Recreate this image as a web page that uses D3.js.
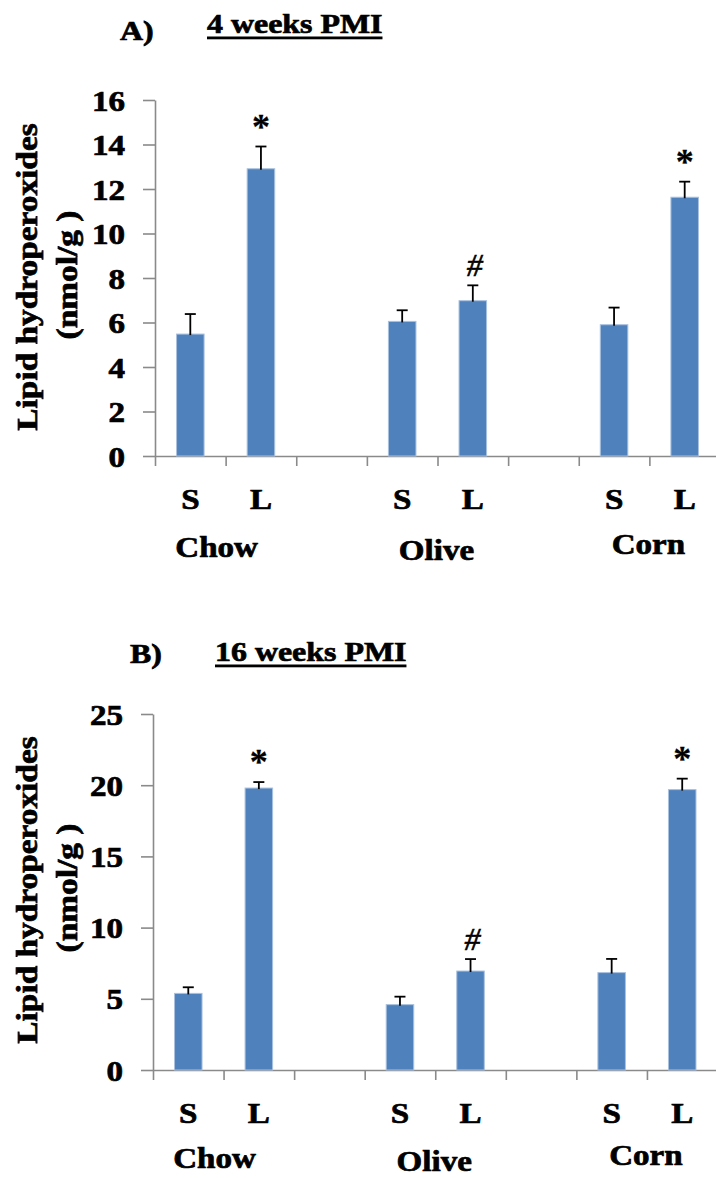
<!DOCTYPE html>
<html>
<head>
<meta charset="utf-8">
<script src="https://cdn.jsdelivr.net/npm/d3@7"></script>
<style>
  html, body { margin: 0; padding: 0; background: #ffffff; }
  svg { display: block; }
</style>
</head>
<body>
<script>
// Lipid hydroperoxides by diet (Chow / Olive / Corn) and group (S / L)
const groups = ["Chow", "Olive", "Corn"];
const subgroups = ["S", "L"];

// 4 weeks PMI
const meansA = [5.48, 12.91, 6.05, 6.98, 5.90, 11.63];
const errsA  = [0.90, 1.00, 0.50, 0.69, 0.77, 0.70];
const marksA = ["", "*", "", "#", "", "*"];
const ticksA = [0, 2, 4, 6, 8, 10, 12, 14, 16];

// 16 weeks PMI
const meansB = [5.38, 19.80, 4.59, 6.95, 6.84, 19.69];
const errsB  = [0.43, 0.42, 0.56, 0.84, 0.96, 0.77];
const marksB = ["", "*", "", "#", "", "*"];
const ticksB = [0, 5, 10, 15, 20, 25];

const titlesA = ["A)", "4 weeks PMI"];
const titlesB = ["B)", "16 weeks PMI"];
const yTitle = ["Lipid hydroperoxides", "(nmol/g )"];

const W = 716, H = 1178;
const SERIF = "'Liberation Serif', 'Times New Roman', Times, serif";
const BAR = "#4f81bd", BAR_EDGE = "#a9c1df", AXIS = "#8a8a8a";
const STRETCH = 1.14;   // glyphs are drawn slightly wide along the reading direction

const svg = d3.select("body").append("svg")
  .attr("width", W).attr("height", H)
  .attr("viewBox", `0 0 ${W} ${H}`);

// text placed at (x, y), optionally rotated, widened along its own baseline
function label(g, str, x, y, o = {}) {
  const weight = o.weight || "bold";
  const t = g.append("text")
    .attr("transform", `translate(${x},${y}) rotate(${o.rotate || 0}) scale(${o.sx || STRETCH},1)`)
    .attr("text-anchor", o.anchor || "middle")
    .attr("font-family", SERIF)
    .attr("font-weight", weight)
    .attr("font-style", o.italic ? "italic" : "normal")
    .attr("font-size", o.size || 29)
    .attr("fill", "#000")
    .attr("stroke", "#000")
    .attr("stroke-width", o.heavy != null ? o.heavy : (weight === "bold" ? 0.7 : 0.4))
    .text(str);
  return t;
}

function panel(cfg) {
  const g = svg.append("g");
  const nSlots = groups.length * 3 - 1;           // S, L, gap, S, L, gap, S, L

  const y = d3.scaleLinear().domain([0, cfg.yMax]).range([cfg.y0, cfg.y1]);
  const xEdge = d3.scaleLinear().domain([0, nSlots]).range([cfg.x0, cfg.x1]);
  const xBand = d3.scaleBand().domain(d3.range(nSlots))
    .range([cfg.x0, cfg.x1]).paddingInner(0.61).paddingOuter(0.305);

  // titles
  label(g, cfg.titles[0], cfg.tagX, cfg.tagY, { anchor: "start", size: 28 });
  const head = label(g, cfg.titles[1], cfg.headX, cfg.headY, { anchor: "start", size: 28 });
  const hb = head.node().getBoundingClientRect();
  g.append("rect")
    .attr("x", hb.left).attr("width", hb.width)
    .attr("y", cfg.headY + 3.5).attr("height", 2.8)
    .attr("fill", "#000");

  // y axis lines (labels drawn separately)
  const yAxis = g.append("g")
    .attr("transform", `translate(${cfg.x0},0)`)
    .call(d3.axisLeft(y).tickValues(cfg.ticks).tickSize(12).tickSizeOuter(0).tickFormat(""));
  yAxis.selectAll("path, line").attr("stroke", AXIS).attr("stroke-width", 1.6);

  // x axis with tick marks at slot boundaries
  const xAxis = g.append("g")
    .attr("transform", `translate(0,${cfg.y0})`)
    .call(d3.axisBottom(xEdge).tickValues(d3.range(nSlots + 1)).tickSize(10).tickSizeOuter(0).tickFormat(""));
  xAxis.selectAll("path, line").attr("stroke", AXIS).attr("stroke-width", 1.6);

  // y tick labels
  cfg.ticks.forEach(v => label(g, String(v), cfg.x0 - 30, y(v) + 10.5, { anchor: "end" }));

  // y axis title, two rotated lines
  label(g, yTitle[0], 37, cfg.yTitleMid, { rotate: -90, size: 29, sx: 1.15 });
  label(g, yTitle[1], 77, cfg.yTitleMid - 2, { rotate: -90, size: 29, sx: 1.15 });

  const slotOf = i => Math.floor(i / 2) * 3 + (i % 2);

  // bars
  g.selectAll("rect.bar").data(cfg.means).join("rect")
    .attr("class", "bar")
    .attr("x", (d, i) => xBand(slotOf(i)))
    .attr("width", xBand.bandwidth())
    .attr("y", d => y(d))
    .attr("height", d => y(0) - y(d))
    .attr("fill", BAR)
    .attr("stroke", BAR_EDGE)
    .attr("stroke-width", 1);

  // upper error bars
  const cx = i => xBand(slotOf(i)) + xBand.bandwidth() / 2;
  cfg.means.forEach((m, i) => {
    const top = y(m + cfg.errs[i]);
    g.append("line").attr("x1", cx(i)).attr("x2", cx(i))
      .attr("y1", y(m) + 1).attr("y2", top)
      .attr("stroke", "#000").attr("stroke-width", 1.8);
    g.append("line").attr("x1", cx(i) - 5.5).attr("x2", cx(i) + 5.5)
      .attr("y1", top).attr("y2", top)
      .attr("stroke", "#000").attr("stroke-width", 1.8);

    // significance marks, centred a fixed distance above the error cap
    if (cfg.marks[i]) {
      const isHash = cfg.marks[i] === "#";
      const mx = cx(i) + (isHash ? 2 : 0);
      const t = label(g, cfg.marks[i], mx, 0, isHash
        ? { weight: "normal", italic: true, size: 32, sx: 1, heavy: 0.6 }
        : { weight: "bold", size: 36, sx: 1, heavy: 0.3 });
      const b = t.node().getBBox();
      const want = top - 20;
      t.attr("transform", `translate(${mx},${want - (b.y + b.height / 2)})`);
    }
  });

  // S / L labels under each bar
  cfg.means.forEach((m, i) => label(g, subgroups[i % 2], cx(i), cfg.subY));

  // diet labels under each pair
  const nudgeX = [-9, -1, -1], nudgeY = [0, 3, -3];
  groups.forEach((name, k) => {
    const mid = (cx(2 * k) + cx(2 * k + 1)) / 2;
    label(g, name, mid + nudgeX[k], cfg.groupY + nudgeY[k]);
  });
}

panel({
  titles: titlesA, means: meansA, errs: errsA, marks: marksA, ticks: ticksA,
  yMax: 16, y0: 456, y1: 100, x0: 155, x1: 720,
  tagX: 120, tagY: 40, headX: 207, headY: 33,
  yTitleMid: 277, subY: 509, groupY: 557
});

panel({
  titles: titlesB, means: meansB, errs: errsB, marks: marksB, ticks: ticksB,
  yMax: 25, y0: 1070, y1: 714, x0: 153, x1: 717.5,
  tagX: 130, tagY: 663, headX: 215, headY: 661,
  yTitleMid: 890, subY: 1123, groupY: 1168
});
</script>
</body>
</html>
